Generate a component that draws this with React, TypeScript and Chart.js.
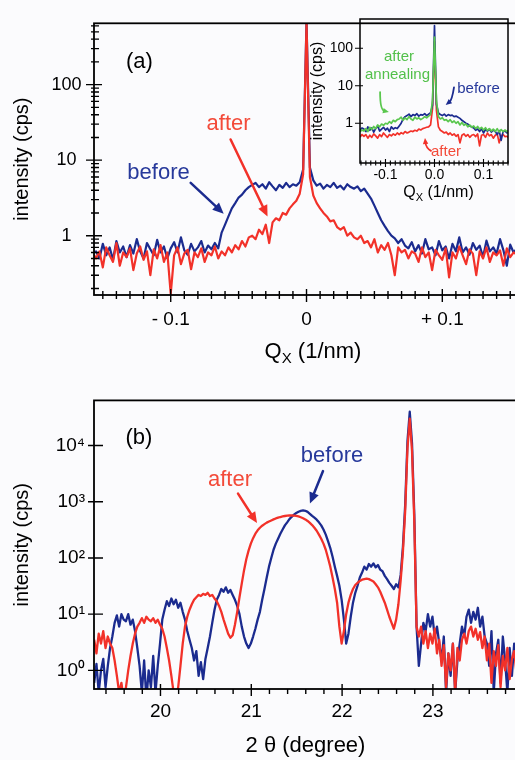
import React, { useEffect, useRef } from "react";
import { Chart, registerables } from "chart.js";

Chart.register(...registerables);

const FONT = '"Liberation Sans", Arial, Helvetica, sans-serif';
const BLUE = "#1b2b8f";
const RED = "#f23129";
const GREEN = "#5ac74e";
const BLUE_TXT = "#27399b";
const RED_TXT = "#f34a39";
const GREEN_TXT = "#52c04a";
const BG = "#fbfbfd";

// ---------------- Panel (a): Qx scan (sampling grid start/step) ----------------
const qxStartA = -0.1575;
const qxStepA = 0.0025;
const beforeA = [0.58,
  0.62, 0.5, 0.78, 0.55, 0.7, 0.48, 0.85, 0.6, 0.72, 0.52,
  0.75, 0.58, 0.9, 0.62, 0.5, 0.8, 0.66, 0.55, 0.88, 0.6,
  0.72, 0.5, 0.68, 0.82, 0.6, 0.95, 0.64, 0.56, 0.78, 0.62,
  0.7, 0.85, 0.6, 0.74, 0.66, 0.8, 0.68,
  1.1, 1.4, 1.8, 2.3, 2.7, 3.2, 3.5, 4.0, 4.4, 4.7,
  5.0, 4.4, 4.8, 4.2, 5.1, 4.5, 4.0, 4.7, 4.3, 5.0, 4.4, 4.8, 4.6, 5.1, 7.5,
  700,
  8, 5.4, 4.6, 4.9, 4.2, 4.7, 4.4, 5.0, 4.3, 4.6, 4.1, 4.8, 4.4, 4.2,
  4.5, 3.9, 4.2, 3.6, 3.1, 2.5, 2.0, 1.6, 1.35, 1.15, 1.0, 0.92, 0.8, 0.9, 0.74,
  0.68, 0.82, 0.62, 0.75, 0.58, 0.9, 0.66, 0.7, 0.55, 0.85, 0.64, 0.72, 0.5, 0.78, 0.62, 0.95, 0.6,
  0.7, 0.56, 0.8, 0.65, 0.74, 0.52, 0.86, 0.62, 0.7, 0.58, 0.9, 0.64, 0.4, 0.76, 0.6, 0.68];
const afterA = [0.6,
  0.5, 0.62, 0.38, 0.7, 0.55, 0.45, 0.8, 0.4, 0.6, 0.52,
  0.68, 0.35, 0.58, 0.72, 0.48, 0.62, 0.3, 0.66, 0.5, 0.75,
  0.45, 0.6, 0.17, 0.55, 0.7, 0.42, 0.58, 0.65, 0.36, 0.6,
  0.52, 0.68, 0.45, 0.6, 0.55, 0.72, 0.5,
  0.62, 0.55, 0.7, 0.6, 0.75, 0.66, 0.85, 0.72, 0.95, 1.0,
  0.9, 1.2, 1.05, 1.4, 0.8, 1.5, 1.7, 1.6, 2.0, 1.9, 2.3, 2.6, 2.9, 3.6, 6.5,
  650,
  6, 3.4, 2.7, 2.3, 2.0, 1.8, 1.55, 1.6, 1.3, 1.2, 1.3, 1.0, 1.1, 0.95,
  0.9, 1.0, 0.8, 0.85, 0.7, 0.9, 0.6, 0.75, 0.65, 0.8, 0.55, 0.3, 0.7, 0.6, 0.65,
  0.5, 0.62, 0.58, 0.45, 0.7, 0.52, 0.6, 0.35, 0.65, 0.55, 0.48, 0.68, 0.28, 0.6, 0.5, 0.72, 0.55,
  0.42, 0.66, 0.58, 0.3, 0.62, 0.5, 0.7, 0.45, 0.6, 0.55, 0.64, 0.4, 0.68, 0.52, 0.6, 0.56];
const xTicksA = [-0.1, 0, 0.1];
const xTickLabelsA = ["- 0.1", "0", "+ 0.1"];
const yTicksA = [1, 10, 100];
const yTickLabelsA = ["1", "10", "100"];

// ---------------- Inset: Qx scan with annealing ----------------
const qxStartIn = -0.152;
const qxStepIn = 0.004;
const beforeIn = [0.65, 0.75,
  0.7, 0.6, 0.8, 0.65, 0.75, 0.58, 0.72, 0.85, 0.62, 0.7, 0.78, 0.66, 0.74, 0.6, 0.8, 0.7, 0.76, 0.72,
  0.85, 1.0, 1.3, 1.5,
  1.6, 1.75, 1.5, 1.7, 1.6, 1.8, 1.55, 1.7, 1.65, 1.8, 1.6, 1.75, 1.9,
  3, 400, 3.2,
  1.9, 1.7, 1.6, 1.75, 1.55, 1.7, 1.6, 1.65, 1.5,
  1.55, 1.45, 1.35, 1.2, 1.1, 1.0, 0.95, 0.85, 0.8,
  0.75, 0.65, 0.7, 0.6, 0.72, 0.55, 0.68, 0.62, 0.7, 0.58, 0.66, 0.6, 0.5, 0.64, 0.35, 0.6, 0.62,
  0.55, 0.68];
const annealedIn = [0.6, 0.66,
  0.62, 0.72, 0.6, 0.78, 0.68, 0.82, 0.72, 0.9, 0.8, 0.95, 0.88, 1.0, 0.95, 1.1, 1.0, 1.2, 1.1, 1.25,
  1.3, 1.45, 1.2, 1.4, 1.25, 1.5, 1.3, 1.2, 1.45, 1.3, 1.4, 1.25, 1.35, 1.5, 1.4, 1.55, 1.7,
  4, 200, 4,
  1.5, 1.3, 1.4, 1.2, 1.25, 1.1, 1.25, 1.05, 1.15, 1.0, 1.1, 0.9, 1.05, 0.88, 0.95, 0.8, 0.9, 0.78,
  0.85, 0.72, 0.82, 0.7, 0.78, 0.66, 0.76, 0.64, 0.72, 0.62, 0.7, 0.6, 0.72, 0.58, 0.68, 0.6, 0.66,
  0.6, 0.62];
const afterIn = [0.42, 0.5,
  0.45, 0.5, 0.4, 0.48, 0.42, 0.52, 0.46, 0.4, 0.5, 0.44, 0.55, 0.48, 0.42, 0.5, 0.46, 0.52, 0.48, 0.55,
  0.5, 0.56, 0.52, 0.6, 0.55, 0.58, 0.62, 0.6, 0.65, 0.62, 0.7, 0.66, 0.72, 0.75, 0.78, 0.8, 0.9,
  2.5, 150, 2.2,
  0.8, 0.65, 0.6, 0.55, 0.58, 0.5, 0.55, 0.48, 0.52, 0.45, 0.5, 0.3, 0.48, 0.52, 0.45, 0.5, 0.42, 0.48,
  0.5, 0.44, 0.52, 0.25, 0.48, 0.5, 0.42, 0.55, 0.46, 0.5, 0.4, 0.48, 0.52, 0.3, 0.46, 0.5, 0.44,
  0.45, 0.4];
const xTicksIn = [-0.1, 0, 0.1];
const xTickLabelsIn = ["-0.1", "0.0", "0.1"];
const yTicksIn = [1, 10, 100];
const yTickLabelsIn = ["1", "10", "100"];

// ---------------- Panel (b): 2θ scan ----------------
const tthStartB = 19.27;
const tthStepB = 0.025;
const beforeB = [
  0.6, 1.3, 0.4, 1.0, 1.6, 0.5, 1.2, 2.5,
  4, 7, 9.5, 6, 10, 8, 7.5, 10, 6.5, 8, 5,
  2.5, 1.2, 0.4, 1.5, 0.3, 1.0, 0.5, 1.8, 0.4, 1.2,
  3, 8, 12, 17, 14, 19, 15, 18, 13, 16, 11, 8, 5,
  3.5, 2.5, 1.5, 2.2, 0.8, 1.4, 0.7, 1.6, 2.5,
  4, 7, 12, 18, 22, 28, 25, 30, 24, 27, 22, 18,
  14, 10, 6, 4, 3, 2.5, 3,
  4, 5.5, 8, 11, 18, 28, 45, 70, 100, 140, 180,
  220, 270, 320, 380, 430, 490, 540, 590, 630, 665, 690, 700,
  690, 660, 610, 560,
  520, 480, 430, 380, 320, 260, 200, 150, 105, 70, 48, 32,
  18, 8, 3, 4.5, 9,
  16, 24, 32, 45, 55, 70, 62, 78, 70, 80, 68, 75, 62, 58, 48, 42, 36, 32,
  28, 34, 30, 50,
  160, 900, 12000, 40000, 11000, 600, 6,
  1.2, 3, 7, 5, 10, 6, 9, 4,
  6, 3, 1.5, 4, 0.4, 2, 0.8, 3, 0.4, 1.5,
  3, 6, 4, 9, 12, 7, 11, 8, 13, 6, 9, 4,
  3, 1.2, 5, 0.4, 2, 3.5, 0.6, 4, 1.5, 0.4, 2.5, 0.8, 3, 1.5];
const afterB = [
  3.5, 2, 4.5, 3, 5, 2.5, 4, 3,
  2.5, 1.5, 0.8, 0.4, 0.6, 0.3, 0.5, 1.0, 1.8,
  3, 4.5, 6, 7, 8.5, 7, 9, 8, 7.5, 8.5, 7, 8, 6.5, 5.5, 4, 2.5,
  1.5, 0.8, 0.4, 0.3, 0.5, 1.2,
  3, 6, 9, 12, 15, 18, 20, 22, 21, 23, 22, 24, 21, 22, 19, 17, 14, 11, 8,
  6, 4.5, 3.8, 4.2,
  6.5, 11, 20, 35, 60, 95, 135, 180,
  225, 270, 310, 345, 375, 400, 425, 445, 465, 485, 505, 520, 535, 548, 558, 565, 570, 570, 568,
  560, 548, 530, 510, 485, 455, 420, 385, 345, 305, 260, 220,
  180, 140, 100, 70, 45, 28, 16, 6, 3, 5,
  10, 16, 22, 28, 33, 36, 39, 41, 42, 43, 42, 40, 38, 34, 30, 25, 20, 16, 12, 9, 7,
  5.5, 8, 15, 40,
  130, 700, 9000, 30000, 8000, 450, 6,
  4, 6, 3, 5, 2.5, 4.5, 3, 5.5, 2, 3.5, 1.2, 2.8, 0.5, 2, 1, 3, 0.4, 2.5, 1.5, 3.5, 4.5, 3,
  5, 6, 4, 5.5, 3.5, 4.8, 2.5, 4, 1.5, 3, 0.6, 2.2, 1.2, 2.8, 0.5, 1.8, 1, 2.5, 0.7, 1.6, 2.2, 0.9];
const xTicksB = [20, 21, 22, 23];
const xTickLabelsB = ["20", "21", "22", "23"];
const yTicksB = [1, 10, 100, 1000, 10000];
const yTickLabelsB = ["10\u2070", "10\u00B9", "10\u00B2", "10\u00B3", "10\u2074"];

const yTitle = "intensity (cps)";
const xTitleB = "2 \u03B8 (degree)";
const qxMain = "Q";
const qxSub = "X";
const qxRest = " (1/nm)";

// ---------------- helpers ----------------
function grid(start: number, step: number, n: number) {
  const out: number[] = [];
  for (let i = 0; i < n; i++) out.push(+(start + step * i).toFixed(5));
  return out;
}
function toPts(xs: number[], ys: number[]) {
  return ys.map((y, i) => ({ x: xs[i], y }));
}
function seq(a: number, b: number, step: number, skipEvery?: number) {
  const out: number[] = [];
  const n = Math.round((b - a) / step);
  for (let i = 0; i <= n; i++) {
    const v = +(a + step * i).toFixed(6);
    if (skipEvery) {
      const r = v / skipEvery;
      if (Math.abs(r - Math.round(r)) < 1e-6) continue;
    }
    out.push(v);
  }
  return out;
}
function logMinors(lo: number, hi: number) {
  const out: number[] = [];
  for (let e = -2; e <= 4; e++) {
    for (let m = 2; m <= 9; m++) {
      const v = m * Math.pow(10, e);
      if (v >= lo && v <= hi) out.push(v);
    }
  }
  return out;
}

type Txt = { t: string; x: number; y: number; color: string; size: number };
type Arr = { x1: number; y1: number; x2: number; y2: number; cx?: number; cy?: number; color: string; w: number; head: number };
type Deco = {
  axisW: number; tickW: number;
  xMajor: number[]; xMajorLen: number[]; xMinor: number[]; xMinorLen: number[];
  yMajor: number[]; yMajorLen: number[]; yMinor: number[]; yMinorLen: number[];
  texts: Txt[]; arrows: Arr[];
  qTitle?: { cx: number; base: number; size: number; subSize: number; subDy: number };
};

function makeDeco(d: Deco) {
  return {
    id: "deco",
    afterDatasetsDraw(chart: any) {
      const ctx = chart.ctx as CanvasRenderingContext2D;
      const a = chart.chartArea;
      const xs = chart.scales.x;
      const ys = chart.scales.y;
      ctx.save();
      ctx.strokeStyle = "#000";
      ctx.lineWidth = d.tickW;
      ctx.beginPath();
      const xt = (vals: number[], len: number[]) => vals.forEach((v) => {
        const p = xs.getPixelForValue(v);
        if (p < a.left - 1 || p > a.right + 1) return;
        ctx.moveTo(p, a.bottom - len[0]);
        ctx.lineTo(p, a.bottom + len[1]);
      });
      const yt = (vals: number[], len: number[]) => vals.forEach((v) => {
        const p = ys.getPixelForValue(v);
        if (p < a.top - 1 || p > a.bottom + 1) return;
        ctx.moveTo(a.left - len[0], p);
        ctx.lineTo(a.left + len[1], p);
      });
      xt(d.xMinor, d.xMinorLen);
      xt(d.xMajor, d.xMajorLen);
      yt(d.yMinor, d.yMinorLen);
      yt(d.yMajor, d.yMajorLen);
      ctx.stroke();
      ctx.lineWidth = d.axisW;
      ctx.strokeRect(a.left, a.top, a.right - a.left, a.bottom - a.top);

      ctx.textAlign = "center";
      ctx.textBaseline = "middle";
      d.texts.forEach((t) => {
        ctx.fillStyle = t.color;
        ctx.font = `${t.size}px ${FONT}`;
        ctx.fillText(t.t, xs.getPixelForValue(t.x), ys.getPixelForValue(t.y));
      });

      d.arrows.forEach((ar) => {
        const x1 = xs.getPixelForValue(ar.x1), y1 = ys.getPixelForValue(ar.y1);
        const x2 = xs.getPixelForValue(ar.x2), y2 = ys.getPixelForValue(ar.y2);
        const hasC = ar.cx !== undefined && ar.cy !== undefined;
        const cx = hasC ? xs.getPixelForValue(ar.cx as number) : x1;
        const cy = hasC ? ys.getPixelForValue(ar.cy as number) : y1;
        const ang = Math.atan2(y2 - cy, x2 - cx);
        const c = Math.cos(ang), s = Math.sin(ang);
        const bx = x2 - c * ar.head * 0.8, by = y2 - s * ar.head * 0.8;
        ctx.strokeStyle = ar.color;
        ctx.fillStyle = ar.color;
        ctx.lineWidth = ar.w;
        ctx.lineCap = "round";
        ctx.beginPath();
        ctx.moveTo(x1, y1);
        if (hasC) ctx.quadraticCurveTo(cx, cy, bx, by);
        else ctx.lineTo(bx, by);
        ctx.stroke();
        const hw = ar.head * 0.45;
        ctx.beginPath();
        ctx.moveTo(x2, y2);
        ctx.lineTo(x2 - c * ar.head + s * hw, y2 - s * ar.head - c * hw);
        ctx.lineTo(x2 - c * ar.head - s * hw, y2 - s * ar.head + c * hw);
        ctx.closePath();
        ctx.fill();
      });

      if (d.qTitle) {
        const q = d.qTitle;
        ctx.fillStyle = "#000";
        ctx.textAlign = "left";
        ctx.textBaseline = "alphabetic";
        ctx.font = `${q.size}px ${FONT}`;
        const w1 = ctx.measureText(qxMain).width;
        const w3 = ctx.measureText(qxRest).width;
        ctx.font = `${q.subSize}px ${FONT}`;
        const w2 = ctx.measureText(qxSub).width;
        let x = q.cx - (w1 + w2 + w3) / 2;
        ctx.font = `${q.size}px ${FONT}`;
        ctx.fillText(qxMain, x, q.base);
        x += w1;
        ctx.font = `${q.subSize}px ${FONT}`;
        ctx.fillText(qxSub, x, q.base + q.subDy);
        x += w2;
        ctx.font = `${q.size}px ${FONT}`;
        ctx.fillText(qxRest, x, q.base);
      }
      ctx.restore();
    },
  };
}

type Cfg = {
  datasets: any[];
  xMin: number; xMax: number; yMin: number; yMax: number;
  xTicks: number[]; xLabels: string[]; yTicks: number[]; yLabels: string[];
  pad: { left: number; top: number; right: number; bottom: number };
  yWidth: number; xHeight: number;
  xTickSize: number; yTickSize: number; xTickPad: number; yTickPad: number;
  yCross: "near" | "center";
  yTitleSize: number; yTitlePad: number;
  xTitle?: string; xTitleSize?: number; xTitlePad?: number;
  deco: Deco;
};

function buildConfig(c: Cfg): any {
  return {
    type: "line",
    data: { datasets: c.datasets },
    options: {
      responsive: false,
      animation: false,
      devicePixelRatio: 1,
      events: [],
      layout: { padding: c.pad },
      plugins: { legend: { display: false }, tooltip: { enabled: false } },
      elements: { point: { radius: 0 }, line: { tension: 0 } },
      scales: {
        x: {
          type: "linear",
          min: c.xMin,
          max: c.xMax,
          afterBuildTicks: (s: any) => { s.ticks = c.xTicks.map((v) => ({ value: v })); },
          afterFit: (s: any) => { s.height = c.xHeight; },
          ticks: {
            callback: (_v: any, i: number) => c.xLabels[i],
            font: { family: FONT, size: c.xTickSize },
            color: "#000",
            padding: c.xTickPad,
            autoSkip: false,
            maxRotation: 0,
            minRotation: 0,
          },
          grid: { display: false, drawTicks: false },
          border: { display: false },
          title: c.xTitle
            ? { display: true, text: c.xTitle, color: "#000", font: { family: FONT, size: c.xTitleSize }, padding: { top: 0, bottom: c.xTitlePad } }
            : { display: false },
        },
        y: {
          type: "logarithmic",
          min: c.yMin,
          max: c.yMax,
          afterBuildTicks: (s: any) => { s.ticks = c.yTicks.map((v) => ({ value: v })); },
          afterFit: (s: any) => { s.width = c.yWidth; },
          ticks: {
            callback: (_v: any, i: number) => c.yLabels[i],
            font: { family: FONT, size: c.yTickSize },
            color: "#000",
            padding: c.yTickPad,
            crossAlign: c.yCross,
            autoSkip: false,
          },
          grid: { display: false, drawTicks: false },
          border: { display: false },
          title: { display: true, text: yTitle, color: "#000", font: { family: FONT, size: c.yTitleSize }, padding: { top: c.yTitlePad, bottom: 0 } },
        },
      },
    },
    plugins: [makeDeco(c.deco)],
  };
}

function line(data: any[], color: string, w: number) {
  return { data, borderColor: color, borderWidth: w, pointRadius: 0, fill: false, tension: 0, borderJoinStyle: "round" };
}

function configA() {
  const xs = grid(qxStartA, qxStepA, beforeA.length);
  return buildConfig({
    datasets: [line(toPts(xs, afterA), RED, 2.2), line(toPts(xs, beforeA), BLUE, 2.2)],
    xMin: -0.1565, xMax: 0.155, yMin: 0.164, yMax: 649,
    xTicks: xTicksA, xLabels: xTickLabelsA, yTicks: yTicksA, yLabels: yTickLabelsA,
    pad: { left: 0, top: 12, right: 3, bottom: 0 },
    yWidth: 94, xHeight: 77,
    xTickSize: 19, yTickSize: 18, xTickPad: 13, yTickPad: 12.5, yCross: "center",
    yTitleSize: 20, yTitlePad: 10,
    deco: {
      axisW: 1.8, tickW: 1.4,
      xMajor: xTicksA, xMajorLen: [6, 7], xMinor: seq(-0.15, 0.15, 0.01, 0.1), xMinorLen: [4, 4],
      yMajor: yTicksA, yMajorLen: [8, 8], yMinor: logMinors(0.164, 649), yMinorLen: [3, 5],
      texts: [
        { t: "(a)", x: -0.123, y: 202, color: "#000", size: 22 },
        { t: "before", x: -0.109, y: 6.7, color: BLUE_TXT, size: 22 },
        { t: "after", x: -0.0574, y: 30, color: RED_TXT, size: 22 },
      ],
      arrows: [
        { x1: -0.0853, y1: 5.0, x2: -0.061, y2: 1.96, color: BLUE, w: 2.5, head: 11 },
        { x1: -0.0559, y1: 18.8, x2: -0.0287, y2: 1.8, color: RED, w: 2.5, head: 11 },
      ],
      qTitle: { cx: 313, base: 358, size: 22, subSize: 15, subDy: 5 },
    },
  });
}

function configIn() {
  const xs = grid(qxStartIn, qxStepIn, beforeIn.length);
  return buildConfig({
    datasets: [
      line(toPts(xs, annealedIn), GREEN, 1.7),
      line(toPts(xs, beforeIn), BLUE, 1.7),
      line(toPts(xs, afterIn), RED, 1.7),
    ],
    xMin: -0.152, xMax: 0.15, yMin: 0.087, yMax: 604,
    xTicks: xTicksIn, xLabels: xTickLabelsIn, yTicks: yTicksIn, yLabels: yTickLabelsIn,
    pad: { left: 0, top: 19, right: 7, bottom: 0 },
    yWidth: 60, xHeight: 47,
    xTickSize: 14, yTickSize: 14, xTickPad: 4, yTickPad: 7, yCross: "near",
    yTitleSize: 16, yTitlePad: 8,
    deco: {
      axisW: 1.5, tickW: 1.1,
      xMajor: xTicksIn, xMajorLen: [4, 4], xMinor: seq(-0.15, 0.15, 0.01, 0.1), xMinorLen: [2.5, 2.5],
      yMajor: yTicksIn, yMajorLen: [5, 3], yMinor: [], yMinorLen: [0, 0],
      texts: [
        { t: "after", x: -0.0724, y: 58.6, color: GREEN_TXT, size: 15 },
        { t: "annealing", x: -0.0755, y: 19.4, color: GREEN_TXT, size: 15 },
        { t: "before", x: 0.0898, y: 8.2, color: BLUE_TXT, size: 15 },
        { t: "after", x: 0.0235, y: 0.172, color: RED_TXT, size: 15 },
      ],
      arrows: [
        { x1: -0.111, y1: 6.8, cx: -0.111, cy: 2.26, x2: -0.093, y2: 2.0, color: GREEN, w: 1.8, head: 6 },
        { x1: 0.0398, y1: 9.1, cx: 0.0357, cy: 4.18, x2: 0.0229, y2: 3.08, color: BLUE, w: 1.8, head: 6 },
        { x1: -0.0071, y1: 0.183, cx: -0.0173, cy: 0.22, x2: -0.0194, y2: 0.405, color: RED, w: 1.8, head: 6 },
      ],
      qTitle: { cx: 138.5, base: 197, size: 16, subSize: 11, subDy: 4 },
    },
  });
}

function configB() {
  const xs = grid(tthStartB, tthStepB, beforeB.length);
  return buildConfig({
    datasets: [line(toPts(xs, afterB), RED, 2.3), line(toPts(xs, beforeB), BLUE, 2.3)],
    xMin: 19.268, xMax: 23.926, yMin: 0.466, yMax: 63600,
    xTicks: xTicksB, xLabels: xTickLabelsB, yTicks: yTicksB, yLabels: yTickLabelsB,
    pad: { left: 0, top: 15, right: 3, bottom: 0 },
    yWidth: 94, xHeight: 71,
    xTickSize: 19, yTickSize: 19, xTickPad: 11, yTickPad: 9, yCross: "near",
    yTitleSize: 20, yTitlePad: 10.5,
    xTitle: xTitleB, xTitleSize: 22, xTitlePad: 1,
    deco: {
      axisW: 1.8, tickW: 1.4,
      xMajor: xTicksB, xMajorLen: [5, 7], xMinor: seq(19.4, 23.8, 0.2, 1), xMinorLen: [0, 5],
      yMajor: yTicksB, yMajorLen: [6, 9], yMinor: [], yMinorLen: [0, 0],
      texts: [
        { t: "(b)", x: 19.763, y: 13800, color: "#000", size: 22 },
        { t: "before", x: 21.889, y: 6430, color: BLUE_TXT, size: 22 },
        { t: "after", x: 20.765, y: 2447, color: RED_TXT, size: 22 },
      ],
      arrows: [
        { x1: 21.79, y1: 3515, x2: 21.646, y2: 932, color: BLUE, w: 2.5, head: 11 },
        { x1: 20.854, y1: 1393, x2: 21.063, y2: 417, color: RED, w: 2.5, head: 11 },
      ],
    },
  });
}

type Spec = { left: number; top: number; width: number; height: number; make: () => any };

function ChartCanvas({ spec }: { spec: Spec }) {
  const ref = useRef<HTMLCanvasElement | null>(null);
  useEffect(() => {
    if (!ref.current) return;
    const chart = new Chart(ref.current, spec.make());
    return () => chart.destroy();
  }, [spec]);
  return (
    <canvas
      ref={ref}
      width={spec.width}
      height={spec.height}
      style={{ position: "absolute", left: spec.left, top: spec.top, width: spec.width, height: spec.height, display: "block" }}
    />
  );
}

const SPECS: Spec[] = [
  { left: 0, top: 0, width: 520, height: 372, make: configA },
  { left: 0, top: 380, width: 520, height: 380, make: configB },
  { left: 300, top: 0, width: 215, height: 210, make: configIn },
];

export default function App() {
  useEffect(() => {
    document.body.style.margin = "0";
    document.body.style.background = BG;
  }, []);
  return (
    <div style={{ position: "relative", width: 515, height: 760, overflow: "hidden", background: BG }}>
      {SPECS.map((s, i) => (
        <ChartCanvas key={i} spec={s} />
      ))}
    </div>
  );
}
